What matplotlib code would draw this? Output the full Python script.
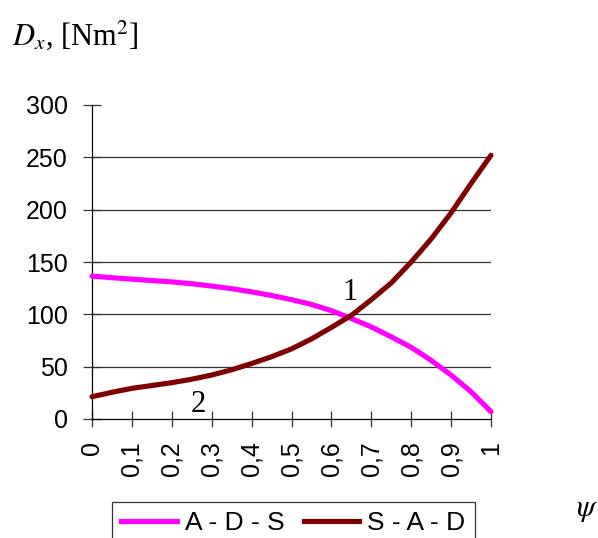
import matplotlib
matplotlib.use("Agg")
import matplotlib.pyplot as plt
from matplotlib.lines import Line2D

plt.rcParams["mathtext.fontset"] = "stix"

# Flexural rigidity vs. psi for the two layer orders
psi = [0.0, 0.05, 0.1, 0.15, 0.2, 0.25, 0.3, 0.35, 0.4, 0.45, 0.5,
       0.55, 0.6, 0.65, 0.7, 0.75, 0.8, 0.85, 0.9, 0.95, 1.0]
ads = [136.5, 135, 133.6, 132.3, 131, 129.2, 127, 124.5, 121.5, 118, 114,
       109.5, 103.5, 96, 88, 78.5, 68.5, 56, 42, 26, 7]
sad = [21.3, 25.5, 29.3, 32, 34.7, 38, 42, 47, 53, 59.5, 67,
       76.5, 87.5, 99, 114, 130, 150, 172, 197, 225, 252]
series_names = ["A - D - S", "S - A - D"]
x_ticks = [0.0, 0.1, 0.2, 0.3, 0.4, 0.5, 0.6, 0.7, 0.8, 0.9, 1.0]
x_tick_labels = ["0", "0,1", "0,2", "0,3", "0,4", "0,5", "0,6", "0,7", "0,8", "0,9", "1"]
y_ticks = [0, 50, 100, 150, 200, 250, 300]

sans = ["Liberation Sans", "DejaVu Sans"]
serif = ["Liberation Serif", "DejaVu Serif"]

fig = plt.figure(figsize=(5.98, 5.38), dpi=100)
ax = fig.add_axes([92 / 598, 1 - 419 / 538, (491 - 92) / 598, (419 - 105) / 538])

ax.plot(psi, ads, color="#FF00FF", lw=3.7, solid_capstyle="round", solid_joinstyle="round",
        clip_on=False, zorder=4)
ax.plot(psi, sad, color="#800000", lw=3.7, solid_capstyle="round", solid_joinstyle="round",
        clip_on=False, zorder=4)

ax.set_xlim(0, 1)
ax.set_ylim(0, 300)
for yv in y_ticks[1:-1]:
    ax.axhline(yv, color="#333333", lw=0.9, zorder=1)

for s in ["top", "right"]:
    ax.spines[s].set_visible(False)
for s in ["left", "bottom"]:
    ax.spines[s].set_color("black")
    ax.spines[s].set_linewidth(0.9)

ax.set_xticks(x_ticks)
ax.set_xticklabels(x_tick_labels, rotation=90, fontfamily=sans, fontsize=18)
ax.set_yticks(y_ticks)
ax.set_yticklabels([str(v) for v in y_ticks], fontfamily=sans, fontsize=18)
ax.tick_params(axis="x", direction="inout", length=12, width=0.9, color="#333333", pad=10)
ax.tick_params(axis="y", direction="inout", length=13, width=0.9, color="#333333", pad=11)

# Curve annotations
ax.text(0.647, 113.5, "1", fontfamily=serif, fontsize=22, ha="center", va="baseline")
ax.text(0.266, 6.7, "2", fontfamily=serif, fontsize=22, ha="center", va="baseline")

# Axis titles
fig.text(12 / 598, 1 - 35 / 538, r"$D_x$, [Nm$^2$]", fontsize=22, va="center", ha="left",
         fontfamily=serif)
fig.text(587 / 598, 1 - 509 / 538, r"$\psi$", fontsize=22, ha="center", va="center")

handles = [Line2D([], [], color="#FF00FF", lw=3.7), Line2D([], [], color="#800000", lw=3.7)]
leg = fig.legend(handles, series_names, loc="upper left", bbox_to_anchor=(112 / 598, 1 - 502 / 538),
                 ncol=2, frameon=True, fancybox=False, edgecolor="black", borderaxespad=0,
                 prop={"family": sans, "size": 19}, handlelength=2.1, handletextpad=0.3,
                 columnspacing=0.75, borderpad=0.35)
leg.get_frame().set_linewidth(0.9)

fig.savefig("out.png", dpi=100, facecolor="white")
